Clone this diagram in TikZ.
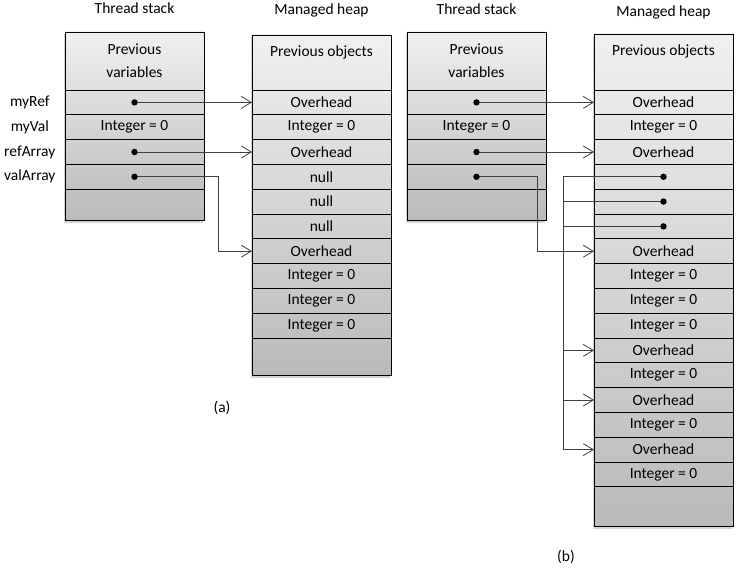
\documentclass[tikz,border=0pt]{standalone}
\usepackage{fontspec}
\setmainfont{Carlito}
\usepackage{tikz}
\usetikzlibrary{arrows.meta,positioning,shadows,fit,backgrounds}
\definecolor{mhline}{RGB}{64,64,64}
\definecolor{mhtop}{RGB}{240,240,240}
\definecolor{mhbottom}{RGB}{186,186,186}
\tikzstyle{cell} = [rectangle, minimum width=139pt, minimum height=24.8pt, inner sep=0pt, outer sep=0pt, draw=black, line width=0.8pt, text centered, align=center]
\tikzstyle{column} = [rectangle, inner sep=0pt, outer sep=0pt, draw=black, line width=0.8pt, top color=mhtop, bottom color=mhbottom, drop shadow={shadow xshift=-1pt, shadow yshift=-2.5pt, opacity=0.35}]
\tikzstyle{title} = [inner sep=0pt, text height=10pt, text depth=4pt]
\tikzstyle{varname} = [inner sep=0pt, minimum width=60pt]
\tikzstyle{pointer} = [line width=0.8pt, draw=mhline, -{Straight Barb[length=10pt,width=12pt]}]
\tikzstyle{dot} = [fill=black]

\begin{document}
\begin{tikzpicture}[x=1pt, y=-1pt, font=\fontsize{15.5}{23}\selectfont]
\useasboundingbox (0,0) rectangle (742,572);

% (a) Thread stack
\node[cell, minimum height=58pt, anchor=north west] (sa0) at (65,32) {Previous\\variables};
\node[cell, below=0pt of sa0] (sa1) {};
\node[cell, below=0pt of sa1] (sa2) {Integer = 0};
\node[cell, below=0pt of sa2] (sa3) {};
\node[cell, below=0pt of sa3] (sa4) {};
\node[cell, minimum height=31pt, below=0pt of sa4] (sa5) {};
\node[title, above=14pt of sa0] (tsa) {Thread stack};

% Variable names
\node[varname, left=5pt of sa1] (myref) {myRef};
\node[varname, left=5pt of sa2] (myval) {myVal};
\node[varname, left=5pt of sa3] (refarray) {refArray};
\node[varname, left=5pt of sa4] (valarray) {valArray};

% (a) Managed heap
\node[cell, minimum height=55pt, anchor=north west] (ha0) at (252,35) {Previous objects\\\mbox{}};
\node[cell, below=0pt of ha0] (ha1) {Overhead};
\node[cell, below=0pt of ha1] (ha2) {Integer = 0};
\node[cell, below=0pt of ha2] (ha3) {Overhead};
\node[cell, below=0pt of ha3] (ha4) {null};
\node[cell, below=0pt of ha4] (ha5) {null};
\node[cell, below=0pt of ha5] (ha6) {null};
\node[cell, below=0pt of ha6] (ha7) {Overhead};
\node[cell, below=0pt of ha7] (ha8) {Integer = 0};
\node[cell, below=0pt of ha8] (ha9) {Integer = 0};
\node[cell, below=0pt of ha9] (ha10) {Integer = 0};
\node[cell, minimum height=37pt, below=0pt of ha10] (ha11) {};
\node[title, above=16pt of ha0] (tha) {Managed heap};

% (b) Thread stack
\node[cell, minimum height=58pt, anchor=north west] (sb0) at (407,32) {Previous\\variables};
\node[cell, below=0pt of sb0] (sb1) {};
\node[cell, below=0pt of sb1] (sb2) {Integer = 0};
\node[cell, below=0pt of sb2] (sb3) {};
\node[cell, below=0pt of sb3] (sb4) {};
\node[cell, minimum height=31pt, below=0pt of sb4] (sb5) {};
\node[title, above=13pt of sb0] (tsb) {Thread stack};

% (b) Managed heap
\node[cell, minimum height=56pt, anchor=north west] (hb0) at (594,34) {Previous objects\\\mbox{}};
\node[cell, below=0pt of hb0] (hb1) {Overhead};
\node[cell, below=0pt of hb1] (hb2) {Integer = 0};
\node[cell, below=0pt of hb2] (hb3) {Overhead};
\node[cell, below=0pt of hb3] (hb4) {};
\node[cell, below=0pt of hb4] (hb5) {};
\node[cell, below=0pt of hb5] (hb6) {};
\node[cell, below=0pt of hb6] (hb7) {Overhead};
\node[cell, below=0pt of hb7] (hb8) {Integer = 0};
\node[cell, below=0pt of hb8] (hb9) {Integer = 0};
\node[cell, below=0pt of hb9] (hb10) {Integer = 0};
\node[cell, below=0pt of hb10] (hb11) {Overhead};
\node[cell, below=0pt of hb11] (hb12) {Integer = 0};
\node[cell, below=0pt of hb12] (hb13) {Overhead};
\node[cell, below=0pt of hb13] (hb14) {Integer = 0};
\node[cell, below=0pt of hb14] (hb15) {Overhead};
\node[cell, below=0pt of hb15] (hb16) {Integer = 0};
\node[cell, minimum height=40pt, below=0pt of hb16] (hb17) {};
\node[title, above=13pt of hb0] (thb) {Managed heap};

% Shaded columns behind the cells
\begin{scope}[on background layer]
\node[column, fit=(sa0)(sa5)] (csa) {};
\node[column, fit=(ha0)(ha11)] (cha) {};
\node[column, fit=(sb0)(sb5)] (csb) {};
\node[column, fit=(hb0)(hb17)] (chb) {};
\end{scope}

% (a) References
\draw[pointer] (sa1.center) -- (ha1.west);
\draw[pointer] (sa3.center) -- (ha3.west);
\draw[pointer] (sa4.center) -- ([xshift=14pt]sa4.east) |- (ha7.west);

% (b) References
\draw[pointer] (sb1.center) -- (hb1.west);
\draw[pointer] (sb3.center) -- (hb3.west);
\draw[pointer] (sb4.center) -- ([xshift=-9pt]sb4.east) |- (hb7.west);
\draw[pointer] (hb4.center) -- ([xshift=-31pt]hb4.west) |- (hb11.west);
\draw[pointer] (hb5.center) -- ([xshift=-31pt]hb5.west) |- (hb13.west);
\draw[pointer] (hb6.center) -- ([xshift=-31pt]hb6.west) |- (hb15.west);

% Dots
\foreach \n in {sa1,sa3,sa4,sb1,sb3,sb4,hb4,hb5,hb6}
  \fill[dot] (\n.center) circle (3.2pt);

% Captions
\node (capa) at (222,408) {(a)};
\node (capb) at (566,557) {(b)};
\end{tikzpicture}
\end{document}
